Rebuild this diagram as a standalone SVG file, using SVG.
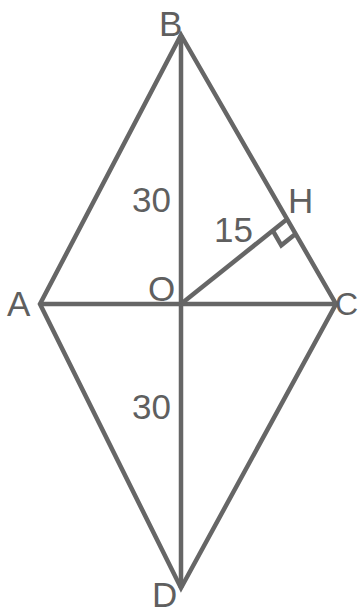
<svg xmlns="http://www.w3.org/2000/svg" width="358" height="613" viewBox="0 0 358 613">
<style>
.ln{stroke:#666;stroke-width:4.5;fill:none;stroke-linejoin:miter;stroke-miterlimit:10}
.lbl{font-family:"Liberation Sans",Arial,sans-serif;font-size:35px;fill:#5f5f5f}
.sm{font-size:32px}
</style>
<rect width="358" height="613" fill="#fff"/>
<g id="connectors">
<polygon class="ln" points="181,35 336,304 181,588 40,304"/>
<line class="ln" x1="181" y1="35" x2="181" y2="588"/>
<line class="ln" x1="40" y1="304" x2="336" y2="304"/>
<line class="ln" x1="181" y1="304" x2="286" y2="220"/>
<polyline class="ln" points="272.8,230.6 281.3,245.3 294.5,234.7"/>
</g>
<g id="B"><text class="lbl" x="159" y="36">B</text></g>
<g id="A"><text class="lbl" x="7" y="316">A</text></g>
<g id="C"><text class="lbl sm" x="335" y="315">C</text></g>
<g id="D"><text class="lbl" x="152" y="607">D</text></g>
<g id="O"><text class="lbl" x="148" y="301">O</text></g>
<g id="H"><text class="lbl" x="288" y="213">H</text></g>
<g id="label30a"><text class="lbl" x="132" y="212">30</text></g>
<g id="label30b"><text class="lbl" x="132" y="419">30</text></g>
<g id="label15"><text class="lbl" x="214" y="242">15</text></g>
</svg>
